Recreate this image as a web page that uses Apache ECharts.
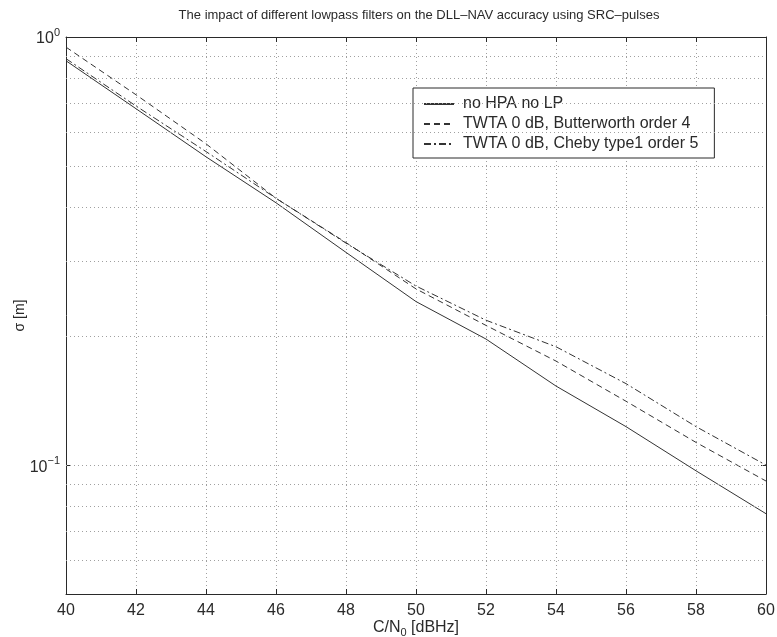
<!DOCTYPE html>
<html>
<head>
<meta charset="utf-8">
<script src="https://cdn.jsdelivr.net/npm/echarts@6/dist/echarts.min.js"></script>
<style>
  html, body { margin: 0; padding: 0; background: #fff; }
  #chart-container { width: 777px; height: 637px; }
</style>
</head>
<body>
<div id="chart-container"></div>
<script>
// 数据部分
var cn0 = [40, 42, 44, 46, 48, 50, 52, 54, 56, 58, 60];
var noHpaNoLp = [0.88, 0.68, 0.525, 0.41, 0.314, 0.241, 0.197, 0.153, 0.123, 0.097, 0.077];
var butterworth4 = [0.947, 0.733, 0.563, 0.42, 0.331, 0.258, 0.212, 0.175, 0.141, 0.113, 0.0918];
var cheby1Order5 = [0.89, 0.69, 0.54, 0.42, 0.33, 0.262, 0.218, 0.189, 0.155, 0.123, 0.100];
var seriesNames = ['no HPA no LP', 'TWTA 0 dB, Butterworth order 4', 'TWTA 0 dB, Cheby type1 order 5'];
// 对数轴的网格线 (matlab 风格)
var yGridValues = [0.06, 0.07, 0.08, 0.09, 0.1, 0.2, 0.3, 0.4, 0.5, 0.6, 0.7, 0.8, 0.9];

var dom = document.getElementById('chart-container');
var myChart = echarts.init(dom, null, { renderer: 'canvas' });

var FONT = '"Liberation Sans", Arial, sans-serif';
var INK = '#2a2a2a';

function pairs(ys) {
  return cn0.map(function (x, i) { return [x, ys[i]]; });
}

// y轴刻度标签: 10^0, 10^-1
function logLabel(v) {
  var e = Math.round(Math.log10(v));
  if (Math.abs(Math.log10(v) - e) > 1e-6) return '';
  return '{b|10}{s|' + (e < 0 ? '\u2212' + (-e) : e) + '}';
}

var tickStyle = { show: true, inside: true, length: 5, lineStyle: { color: INK } };
var lineAxis = { show: true, lineStyle: { color: INK, width: 1 } };

var option = {
  backgroundColor: '#fff',
  animation: false,
  title: {
    text: 'The impact of different lowpass filters on the DLL\u2013NAV accuracy using SRC\u2013pulses',
    left: 414,
    textAlign: 'center',
    top: 4,
    textStyle: { fontFamily: FONT, fontSize: 13, fontWeight: 'normal', color: INK }
  },
  legend: {
    orient: 'vertical',
    left: 413,
    top: 88,
    padding: [8, 16, 6, 10],
    itemWidth: 30,
    itemHeight: 15,
    itemGap: 4,
    backgroundColor: '#fff',
    borderColor: INK,
    borderWidth: 1,
    borderRadius: 0,
    itemStyle: { opacity: 0 },
    textStyle: { fontFamily: FONT, fontSize: 16, color: INK, padding: [0, 0, 0, 4] },
    data: seriesNames
  },
  grid: { left: 66, right: 11, top: 37, bottom: 43, containLabel: false, outerBoundsMode: 'none' },
  xAxis: [
    {
      type: 'value', min: 40, max: 60, interval: 2,
      name: 'C/N{sub|0} [dBHz]',
      nameLocation: 'middle',
      nameGap: 24,
      nameMoveOverlap: false,
      nameTextStyle: {
        fontFamily: FONT, fontSize: 16, color: INK,
        rich: { sub: { fontFamily: FONT, fontSize: 11, color: INK, verticalAlign: 'bottom', padding: [9, 0, 0, 0] } }
      },
      axisLine: lineAxis,
      axisTick: tickStyle,
      axisLabel: { fontFamily: FONT, fontSize: 16, color: INK, margin: 9 },
      splitLine: { show: true, lineStyle: { color: '#a0a0a0', type: [1, 3], width: 1 } }
    },
    {
      type: 'value', min: 40, max: 60, interval: 2, position: 'top',
      axisLine: lineAxis, axisTick: tickStyle,
      axisLabel: { show: false }, splitLine: { show: false }
    }
  ],
  yAxis: [
    {
      type: 'log', logBase: 10, min: 0.05, max: 1,
      name: '\u03c3 [m]',
      nameLocation: 'middle',
      nameGap: 39,
      nameMoveOverlap: false,
      nameTextStyle: { fontFamily: FONT, fontSize: 14, color: INK },
      axisLine: lineAxis,
      axisTick: tickStyle,
      axisLabel: {
        fontFamily: FONT, margin: 6, color: INK,
        formatter: logLabel,
        rich: {
          b: { fontFamily: FONT, fontSize: 16, color: INK, lineHeight: 20, verticalAlign: 'bottom' },
          s: { fontFamily: FONT, fontSize: 11, color: INK, verticalAlign: 'top' }
        }
      },
      splitLine: { show: false }
    },
    {
      type: 'log', logBase: 10, min: 0.05, max: 1, position: 'right',
      axisLine: lineAxis, axisTick: tickStyle,
      axisLabel: { show: false }, splitLine: { show: false }
    }
  ],
  series: [
    {
      name: seriesNames[0], type: 'line', data: pairs(noHpaNoLp),
      showSymbol: false, symbol: 'none', color: '#333',
      lineStyle: { color: '#333', width: 1, type: 'solid' },
      markLine: {
        silent: true, symbol: 'none', label: { show: false },
        lineStyle: { color: '#a0a0a0', type: [1, 3], width: 1 },
        data: yGridValues.map(function (v) { return { yAxis: v }; })
      },
      z: 3
    },
    {
      name: seriesNames[1], type: 'line', data: pairs(butterworth4),
      showSymbol: false, symbol: 'none', color: '#333',
      lineStyle: { color: '#333', width: 1, type: [6, 4] },
      z: 3
    },
    {
      name: seriesNames[2], type: 'line', data: pairs(cheby1Order5),
      showSymbol: false, symbol: 'none', color: '#333',
      lineStyle: { color: '#333', width: 1, type: [7, 3, 2, 3] },
      z: 3
    }
  ]
};

myChart.setOption(option);
window.addEventListener('resize', myChart.resize);
</script>
</body>
</html>
